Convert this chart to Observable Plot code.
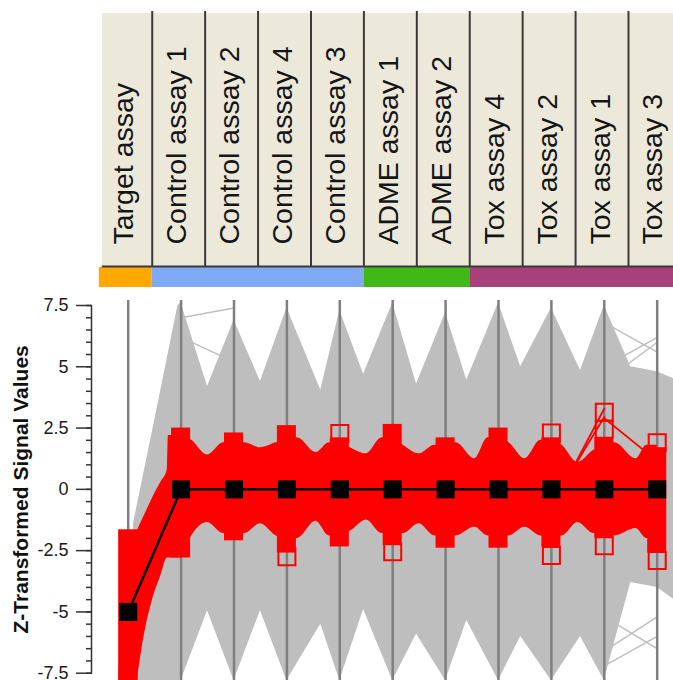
<!DOCTYPE html>
<html><head><meta charset="utf-8">
<script src="https://cdn.jsdelivr.net/npm/d3@7"></script>
<script src="https://cdn.jsdelivr.net/npm/@observablehq/plot@0.6"></script>
<style>
html,body{margin:0;padding:0;background:#fff;overflow:hidden;}
svg{display:block;}
</style></head><body>
<div id="header"></div><div id="chart"></div>
<script>
// ---------- data ----------
const assays = ["Target assay","Control assay 1","Control assay 2","Control assay 4","Control assay 3","ADME assay 1","ADME assay 2","Tox assay 4","Tox assay 2","Tox assay 1","Tox assay 3"];
const assayGroups = ["Target","Control","Control","Control","Control","ADME","ADME","Tox","Tox","Tox","Tox"];
const groupNames = ["Target","Control","ADME","Tox"];
const groupColors = ["#FFA800","#80AAF4","#40B816","#A8407C"];
const meanValues = [-5,0,0,0,0,0,0,0,0,0,0];
const yTicks = [-7.5,-5,-2.5,0,2.5,5,7.5];
const yTitle = "Z-Transformed Signal Values";

// envelope of all (grey) compound lines, read at axis positions (index units)
const grayX      = [0.1, 0.5, 0.94, 1.0, 1.5, 2.0, 2.5, 3.0, 3.64, 4.0, 4.45, 5.0, 5.45, 6.0, 6.4, 7.0, 7.42, 8.0, 8.55, 9.0, 9.5, 10.0, 10.32];
const grayTop    = [-1.4, 2.8, 7.5, 7.6, 4.2, 6.9, 4.4, 7.4, 4.05, 7.3, 4.7, 7.6, 4.3, 7.2, 4.45, 7.6, 5.0, 7.4, 4.85, 7.5, 5.0, 4.8, 4.5];
const grayBottom = [-7.8, -7.8, -7.8, -7.8, -4.95, -7.8, -4.95, -7.8, -5.5, -7.8, -4.9, -7.8, -5.9, -7.8, -5.35, -7.8, -6.0, -7.8, -6.0, -7.8, -3.8, -4.0, -4.5];

// stray grey compound segments [axis index, value]
const grayStrays = [
  [[1, 7.0], [2, 7.4]],
  [[1, 6.2], [2, 5.2]],
  [[9, 5.0], [10, 6.2]],
  [[9, 6.8], [10, 5.6]],
  [[9, 4.4], [10, 6.0]],
  [[9, -6.6], [10, -5.2]],
  [[9, -7.2], [10, -6.0]],
  [[9, -5.2], [10, -6.5]]
];

// envelope of the selected (red) compound band
const redX      = [0.17, 0.3, 0.46, 0.62, 0.74, 0.76, 1.0, 1.2, 1.5, 1.8, 2.0, 2.2, 2.5, 2.8, 3.0, 3.2, 3.55, 3.8, 4.0, 4.2, 4.5, 4.8, 5.0, 5.2, 5.5, 5.8, 6.0, 6.2, 6.55, 6.8, 7.0, 7.2, 7.5, 7.8, 8.0, 8.2, 8.5, 8.8, 9.0, 9.2, 9.6, 9.8, 10.0];
const redTop    = [-1.7, -1.1, -0.35, 0.3, 0.8, 2.2, 2.2, 2.0, 1.4, 1.9, 1.9, 1.9, 1.7, 1.9, 2.0, 2.1, 1.5, 1.9, 1.9, 1.7, 1.45, 2.1, 2.1, 1.8, 1.45, 1.8, 1.8, 1.9, 1.25, 2.1, 2.1, 1.9, 1.25, 2.0, 2.0, 1.8, 1.1, 1.6, 1.8, 1.9, 1.25, 1.8, 1.8];
const redBottom = [-7.8, -6.0, -4.5, -3.5, -2.8, -2.8, -2.8, -1.9, -1.35, -1.8, -1.8, -1.8, -1.4, -1.9, -2.0, -2.0, -1.3, -1.9, -1.8, -1.7, -1.25, -1.8, -1.8, -1.8, -1.4, -1.9, -1.9, -1.9, -1.55, -1.9, -1.9, -1.9, -1.55, -1.9, -1.9, -1.9, -1.35, -1.8, -1.8, -1.9, -1.6, -2.0, -2.0];

// dense clusters of red markers at each axis
const redBlockTop    = [-1.65, 2.5, 2.3, 2.6, 2.1, 2.65, 2.1, 2.5, 2.1, 2.1, 1.7];
const redBlockBottom = [-7.8, -2.8, -2.1, -2.6, -2.35, -2.3, -2.4, -2.4, -2.35, -2.0, -2.6];

// isolated red hollow markers [axis index, value]
const redMarkers = [[0, -7.6], [4, 2.28], [8, 2.3], [9, 3.15], [9, 2.45], [10, 1.9], [3, -2.75], [5, -2.55], [8, -2.7], [9, -2.3], [10, -2.9]];

// stray red compound segments
const redStrays = [
  [[8, -0.8], [9, 3.3]],
  [[8, -0.6], [9, 2.95]],
  [[9, 2.9], [10, 1.15]]
];

// ---------- build ----------
const FONT = "'Liberation Sans', Arial, Helvetica, sans-serif";
const n = assays.length;

const groups = groupNames.map((g, k) => ({
  name: g, color: groupColors[k],
  start: assayGroups.indexOf(g), end: assayGroups.lastIndexOf(g)
}));

const header = Plot.plot({
  width: 673, height: 290, margin: 0,
  x: {domain: [-0.5, n - 0.5], range: [98.8, 98.8 + n * 52.92], axis: null},
  y: {domain: [0, 290], range: [0, 290], axis: null},
  style: {fontFamily: FONT, background: "white", overflow: "hidden"},
  marks: [
    Plot.rect([assays], {x1: -0.5, x2: n - 0.5, y1: 13, y2: 266, fill: "#ECE9DB", insetLeft: 3}),
    Plot.rect(groups, {x1: d => d.start - 0.5, x2: d => d.end + 0.5, y1: 267, y2: 287, fill: d => d.color}),
    Plot.ruleX(assays.slice(1), {x: (d, i) => i + 0.5, y1: 11, y2: 266, stroke: "#3a3a3a", strokeWidth: 2}),
    Plot.ruleY([266], {x1: -0.5, x2: n - 0.5, stroke: "#3a3a3a", strokeWidth: 2, insetLeft: 3}),
    Plot.text(assays, {x: (d, i) => i, y: 244, text: d => d, rotate: -90, textAnchor: "start",
      fontSize: 28.5, fill: "#151515", dx: -1.6})
  ]
});
document.getElementById("header").appendChild(header);

const grayRows = grayX.map((x, i) => ({x, top: grayTop[i], bottom: grayBottom[i]}));
const redRows = redX.map((x, i) => ({x, top: redTop[i], bottom: redBottom[i]}));
const blocks = redBlockTop.map((t, i) => ({i, top: t, bottom: redBlockBottom[i]}));
const grayStrayRows = grayStrays.flatMap((s, k) => s.map(([i, v]) => ({k, i, v})));
const redStrayRows = redStrays.flatMap((s, k) => s.map(([i, v]) => ({k, i, v})));
const markerRows = redMarkers.map(([i, v]) => ({i, v}));
const minorTicks = d3.range(-15, 16).map(k => k * 0.5);

const chart = Plot.plot({
  width: 673, height: 390,
  marginTop: 15, marginBottom: 7.3, marginLeft: 91, marginRight: 0,
  x: {domain: [0, n - 1], range: [127.7, 656.7], axis: null},
  y: {domain: [-7.5, 7.5], axis: null, label: null},
  style: {fontFamily: FONT, background: "white", overflow: "hidden"},
  marks: [
    Plot.areaY(grayRows, {x: "x", y1: "bottom", y2: "top", fill: "#BEBEBE", curve: "linear"}),
    Plot.line(grayStrayRows, {x: "i", y: "v", z: "k", stroke: "#BEBEBE", strokeWidth: 1.5}),
    Plot.ruleX(assays, {x: (d, i) => i, stroke: "#7f7f7f", strokeWidth: 2.5, insetTop: -5, insetBottom: -8}),
    Plot.areaY(redRows, {x: "x", y1: "bottom", y2: "top", fill: "#FF0000", curve: "monotone-x"}),
    Plot.rect(blocks, {x1: d => d.i - 0.18, x2: d => d.i + 0.18, y1: "bottom", y2: "top", fill: "#FF0000"}),
    Plot.line(redStrayRows, {x: "i", y: "v", z: "k", stroke: "#FF0000", strokeWidth: 1.8}),
    Plot.dot(markerRows, {x: "i", y: "v", symbol: "square", r: 9.6, stroke: "#FF0000", strokeWidth: 2, fill: "none"}),
    Plot.line(meanValues, {x: (d, i) => i, y: d => d, stroke: "#000", strokeWidth: 2.5}),
    Plot.dot(meanValues, {x: (d, i) => i, y: d => d, symbol: "square", r: 10.2, fill: "#000", stroke: "none"}),
    Plot.axisY({ticks: minorTicks, tickSize: 5, tickFormat: () => "", stroke: "#333", strokeWidth: 1.5, label: null}),
    Plot.axisY({ticks: yTicks, tickSize: 15, tickPadding: 8, tickFormat: d => String(d), fontSize: 18, stroke: "#333", fill: "#1a1a1a", strokeWidth: 1.5, label: null}),
    Plot.frame({anchor: "left", stroke: "#333", strokeWidth: 1.5}),
    Plot.text([yTitle], {frameAnchor: "left", text: d => d, rotate: -90, textAnchor: "middle", dx: -70.5, fontSize: 21, fontWeight: "bold", fill: "#111"})
  ]
});
document.getElementById("chart").appendChild(chart);
</script>
</body></html>
